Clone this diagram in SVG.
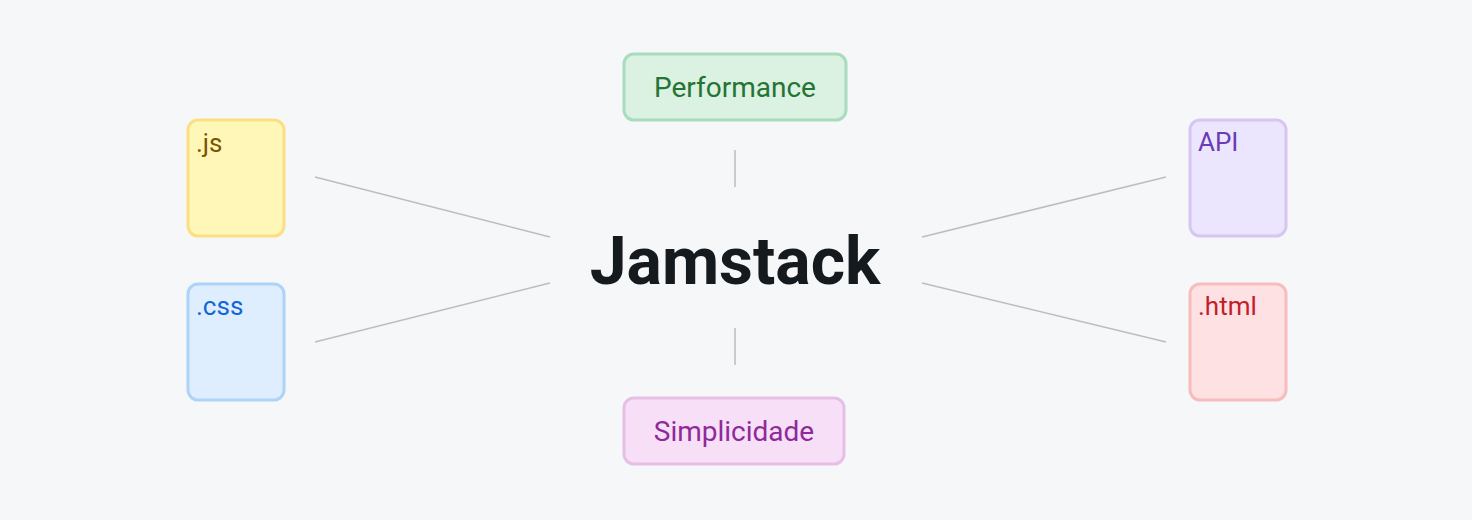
<svg xmlns="http://www.w3.org/2000/svg" width="1472" height="520" viewBox="0 0 1472 520">
<style>
text{font-family:Roboto,"Liberation Sans",sans-serif}
.b{stroke-width:3}
.l{font-size:26px}
.c{font-size:28px;text-anchor:middle}
line{stroke:#bdbdbd;stroke-width:1.5}
</style>
<rect width="1472" height="520" fill="#f6f7f9"/>
<g id="connectors">
<line x1="315" y1="177" x2="550" y2="237"/>
<line x1="315" y1="342" x2="550" y2="283"/>
<line x1="922" y1="237" x2="1166" y2="177"/>
<line x1="922" y1="283" x2="1166" y2="342"/>
<line x1="735" y1="150" x2="735" y2="187"/>
<line x1="735" y1="328" x2="735" y2="365"/>
</g>
<g id="center"><text x="735" y="284" text-anchor="middle" font-size="66" font-weight="bold" fill="#151a1e">Jamstack</text></g>
<g id="js"><rect class="b" x="188" y="120" width="96" height="116" rx="10" fill="#fff7b8" stroke="#fbe083"/><text class="l" x="196" y="152" fill="#7a5500">.js</text></g>
<g id="css"><rect class="b" x="188" y="284" width="96" height="116" rx="10" fill="#dfeefe" stroke="#aed3f6"/><text class="l" x="196" y="315" fill="#1266d6">.css</text></g>
<g id="api"><rect class="b" x="1190" y="120" width="96" height="116" rx="10" fill="#ebe5fd" stroke="#d8c6f2"/><text class="l" x="1198" y="151" fill="#6a3bb4">API</text></g>
<g id="html"><rect class="b" x="1190" y="284" width="96" height="116" rx="10" fill="#fee1e2" stroke="#f7bcbd"/><text class="l" x="1198" y="315" fill="#c21d2d">.html</text></g>
<g id="performance"><rect class="b" x="624" y="54" width="222" height="66" rx="10" fill="#dbf1e2" stroke="#a8dcbc"/><text class="c" x="735" y="97" fill="#247433">Performance</text></g>
<g id="simplicidade"><rect class="b" x="624" y="398" width="220" height="66" rx="10" fill="#f7dff7" stroke="#e6bfe6"/><text class="c" x="734" y="441" fill="#8e2a99">Simplicidade</text></g>
</svg>
